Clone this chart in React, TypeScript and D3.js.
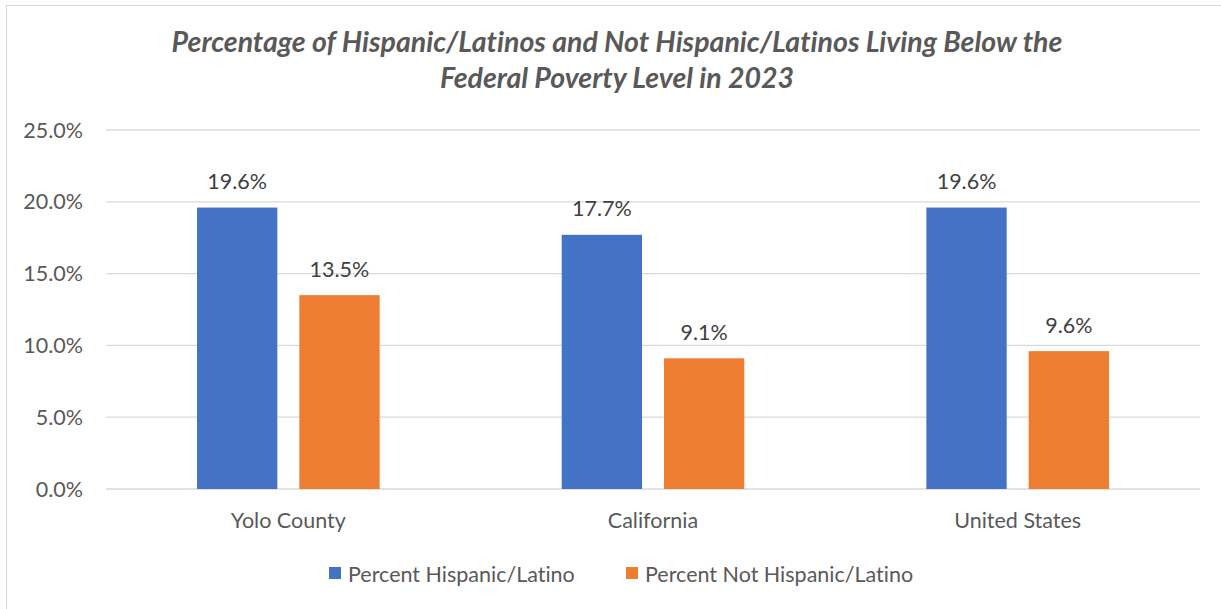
import React from "react";
import * as d3 from "d3";

const categories = ["Yolo County", "California", "United States"];
const seriesNames = ["Percent Hispanic/Latino", "Percent Not Hispanic/Latino"];
const hispanic = [19.6, 17.7, 19.6];
const notHispanic = [13.5, 9.1, 9.6];
const yTicks = [0, 5, 10, 15, 20, 25];
const colors = ["#4472C4", "#ED7D31"];

const W = 1221;
const H = 609;
const FONT = "Lato, 'Open Sans', sans-serif";
const TXT = "#595959";

export default function App() {
  const x0 = d3.scaleBand().domain(categories).range([106, 1200]).paddingInner(0).paddingOuter(0);
  const x1 = d3.scaleBand().domain(seriesNames).range([0, x0.bandwidth()]).paddingInner(0.215).paddingOuter(0.89);
  const y = d3.scaleLinear().domain([0, 25]).range([489, 130]);
  const series = [hispanic, notHispanic];

  return (
    <svg width={W} height={H} style={{ position: "absolute", left: 0, top: 0, fontVariantLigatures: "none" }}>
      <rect x={0} y={0} width={W} height={H} fill="#fff" />
      <rect x={6.5} y={5.5} width={W + 10} height={H + 10} fill="none" stroke="#D9D9D9" strokeWidth={1} />
      <text x={617} y={52} textAnchor="middle" fontFamily={FONT} fontSize={28.5} fontWeight="bold" fontStyle="italic" fill={TXT}>
        Percentage of Hispanic/Latinos and Not Hispanic/Latinos Living Below the
      </text>
      <text x={617} y={88} textAnchor="middle" fontFamily={FONT} fontSize={28.5} fontWeight="bold" fontStyle="italic" fill={TXT}>
        Federal Poverty Level in 2023
      </text>
      {yTicks.map((t) => (
        <g key={t}>
          <line x1={106} x2={1200} y1={y(t)} y2={y(t)} stroke="#D9D9D9" strokeWidth={1.3} />
          <text x={83} y={y(t) + 7.5} textAnchor="end" fontFamily={FONT} fontSize={21.5} fill={TXT}>
            {t.toFixed(1) + "%"}
          </text>
        </g>
      ))}
      {categories.map((c, i) => (
        <g key={c} transform={`translate(${x0(c)},0)`}>
          {seriesNames.map((s, j) => {
            const v = series[j][i];
            const bx = x1(s)!;
            return (
              <g key={s}>
                <rect x={bx} y={y(v)} width={x1.bandwidth()} height={y(0) - y(v)} fill={colors[j]} />
                <text x={bx + x1.bandwidth() / 2} y={y(v) - 18.5} textAnchor="middle" fontFamily={FONT} fontSize={21.5} fill="#404040">
                  {v.toFixed(1) + "%"}
                </text>
              </g>
            );
          })}
          <text x={x0.bandwidth() / 2} y={528} textAnchor="middle" fontFamily={FONT} fontSize={21.5} fill={TXT}>
            {c}
          </text>
        </g>
      ))}
      <rect x={329} y={567} width={12} height={12} fill={colors[0]} />
      <text x={348} y={582} fontFamily={FONT} fontSize={21.5} fill={TXT}>{seriesNames[0]}</text>
      <rect x={626} y={567} width={12} height={12} fill={colors[1]} />
      <text x={645} y={582} fontFamily={FONT} fontSize={21.5} fill={TXT}>{seriesNames[1]}</text>
    </svg>
  );
}
